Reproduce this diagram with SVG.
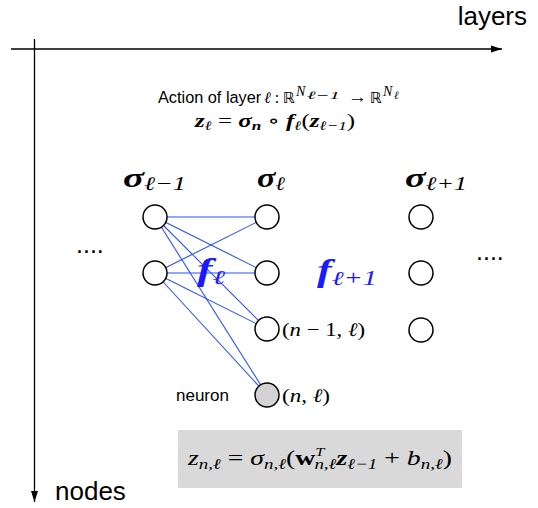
<svg xmlns="http://www.w3.org/2000/svg" width="538" height="508" viewBox="0 0 538 508">
<style>
.axis{stroke:#000;stroke-width:1.3;fill:none}
.edge{stroke:#2b50ff;stroke-width:1.1;fill:none}
.node{fill:#fff;stroke:#000;stroke-width:1.5}
.neuron{fill:#d3d3d3;stroke:#000;stroke-width:1.5}
.sans{font-family:"Liberation Sans",Arial,sans-serif;fill:#000}
.math{font-family:"Liberation Serif","DejaVu Serif","DejaVu Sans",serif;fill:#000}
.it{font-style:italic}
.bi{font-style:italic;font-weight:bold}
.bb{font-family:"DejaVu Sans","DejaVu Serif",sans-serif;font-style:normal}
.blue{fill:#1a1aff}
</style>
<defs>
<marker id="arr" markerUnits="userSpaceOnUse" markerWidth="11" markerHeight="8" refX="11" refY="4" orient="auto">
<path d="M0,0.5 L11,4 L0,7.5 z" fill="#000"/>
</marker>
</defs>

<g id="axes">
<line class="axis" x1="11" y1="49" x2="502" y2="49" marker-end="url(#arr)"/>
<line class="axis" x1="34.5" y1="39" x2="34.5" y2="502" marker-end="url(#arr)"/>
<text class="sans" x="527" y="25" font-size="26" text-anchor="end">layers</text>
<text class="sans" x="55" y="500" font-size="26">nodes</text>
</g>

<g id="header">
<text class="sans" x="158" y="103" font-size="16.3">Action of layer</text>
<text class="math" x="264" y="103" font-size="16" xml:space="preserve"><tspan class="it">ℓ</tspan> :</text>
<text class="math bb" x="283" y="103" font-size="15">ℝ</text>
<text class="math it" x="296" y="96" font-size="14">N</text>
<text class="math it" x="307" y="99" font-size="11" textLength="33" lengthAdjust="spacingAndGlyphs">ℓ−1</text>
<text class="math" x="348" y="103" font-size="19">→</text>
<text class="math bb" x="370" y="103" font-size="15">ℝ</text>
<text class="math it" x="383" y="96" font-size="14">N</text>
<text class="math it" x="394" y="99" font-size="11">ℓ</text>
<text class="math" x="195" y="127" font-size="19" textLength="160" lengthAdjust="spacingAndGlyphs" xml:space="preserve"><tspan class="bi">z</tspan><tspan class="it" font-size="13" dy="3">ℓ</tspan><tspan dy="-3"> = </tspan><tspan class="bi">σ</tspan><tspan class="bi" font-size="13" dy="3">n</tspan><tspan dy="-3"> ∘ </tspan><tspan class="bi">f</tspan><tspan class="it" font-size="13" dy="3">ℓ</tspan><tspan dy="-3">(</tspan><tspan class="bi">z</tspan><tspan class="it" font-size="13" dy="3">ℓ−1</tspan><tspan dy="-3">)</tspan></text>
</g>

<g id="layer-labels">
<text class="math" x="123" y="187" font-size="28" textLength="63" lengthAdjust="spacingAndGlyphs"><tspan class="bi">σ</tspan><tspan class="it" font-size="19" dy="3">ℓ−1</tspan></text>
<text class="math" x="257" y="187" font-size="28" textLength="28" lengthAdjust="spacingAndGlyphs"><tspan class="bi">σ</tspan><tspan class="it" font-size="19" dy="3">ℓ</tspan></text>
<text class="math" x="405" y="187" font-size="28" textLength="62" lengthAdjust="spacingAndGlyphs"><tspan class="bi">σ</tspan><tspan class="it" font-size="19" dy="3">ℓ+1</tspan></text>
</g>

<g id="connectors">
<line class="edge" x1="155" y1="217" x2="267" y2="217"/>
<line class="edge" x1="155" y1="217" x2="267" y2="273"/>
<line class="edge" x1="155" y1="217" x2="267" y2="329"/>
<line class="edge" x1="155" y1="217" x2="267" y2="395"/>
<line class="edge" x1="155" y1="273" x2="267" y2="217"/>
<line class="edge" x1="155" y1="273" x2="267" y2="273"/>
<line class="edge" x1="155" y1="273" x2="267" y2="329"/>
<line class="edge" x1="155" y1="273" x2="267" y2="395"/>
</g>

<g id="n-l1-1"><circle class="node" cx="155" cy="217" r="12"/></g>
<g id="n-l1-2"><circle class="node" cx="155" cy="273" r="12"/></g>
<g id="n-l2-1"><circle class="node" cx="267" cy="217" r="12"/></g>
<g id="n-l2-2"><circle class="node" cx="267" cy="273" r="12"/></g>
<g id="n-l2-3"><circle class="node" cx="267" cy="329" r="12"/>
<text class="math" x="282" y="336" font-size="19" textLength="83" lengthAdjust="spacingAndGlyphs" xml:space="preserve">(<tspan class="it">n</tspan> − 1, <tspan class="it">ℓ</tspan>)</text></g>
<g id="n-l2-n"><circle class="neuron" cx="267" cy="395" r="12"/>
<text class="math" x="282" y="402" font-size="19" textLength="48" lengthAdjust="spacingAndGlyphs" xml:space="preserve">(<tspan class="it">n</tspan>, <tspan class="it">ℓ</tspan>)</text>
<text class="sans" x="176" y="401" font-size="17">neuron</text></g>
<g id="n-l3-1"><circle class="node" cx="421" cy="217" r="12"/></g>
<g id="n-l3-2"><circle class="node" cx="421" cy="273" r="12"/></g>
<g id="n-l3-3"><circle class="node" cx="421" cy="330" r="12"/></g>

<g id="f-labels">
<text class="math blue" x="197" y="280" font-size="31" textLength="28" lengthAdjust="spacingAndGlyphs"><tspan class="bi">f</tspan><tspan class="it" font-size="20" dy="4">ℓ</tspan></text>
<text class="math blue" x="317" y="281" font-size="31" textLength="60" lengthAdjust="spacingAndGlyphs"><tspan class="bi">f</tspan><tspan class="it" font-size="20" dy="4">ℓ+1</tspan></text>
</g>

<g id="ellipses">
<text class="sans" x="76" y="253" font-size="25">....</text>
<text class="sans" x="476" y="260" font-size="25">....</text>
</g>

<g id="formula">
<rect x="178" y="430" width="284" height="58" fill="#d9d9d9"/>
<text class="math" x="188" y="465" font-size="22" textLength="264" lengthAdjust="spacingAndGlyphs" xml:space="preserve"><tspan class="it">z</tspan><tspan class="it" font-size="15" dy="4">n,ℓ</tspan><tspan dy="-4"> = </tspan><tspan class="it">σ</tspan><tspan class="it" font-size="15" dy="4">n,ℓ</tspan><tspan dy="-4">(</tspan><tspan font-weight="bold">w</tspan><tspan class="it" font-size="13" dy="-9">T</tspan><tspan class="it" font-size="15" dx="-8" dy="13">n,ℓ</tspan><tspan class="bi" dy="-4">z</tspan><tspan class="it" font-size="15" dy="4">ℓ−1</tspan><tspan dy="-4"> + </tspan><tspan class="it">b</tspan><tspan class="it" font-size="15" dy="4">n,ℓ</tspan><tspan dy="-4">)</tspan></text>
</g>
</svg>
